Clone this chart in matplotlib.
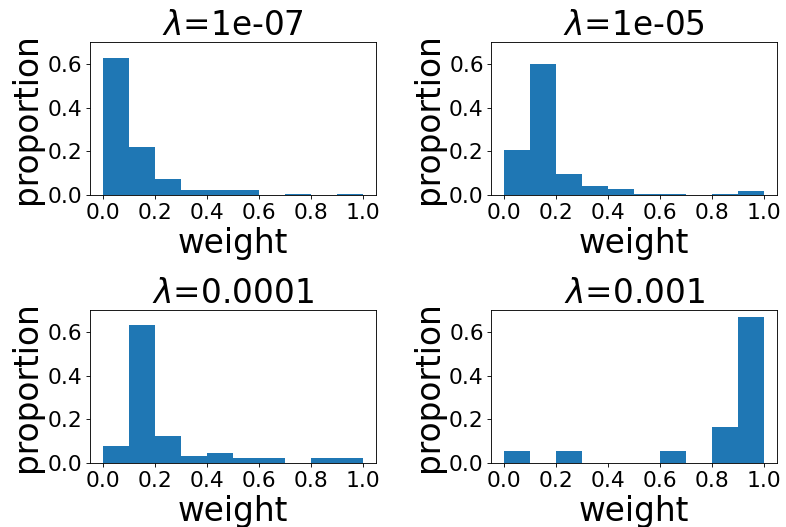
import numpy as np
import matplotlib
matplotlib.use("Agg")
import matplotlib.pyplot as plt

# histogram bin edges over the weight range
bin_edges = np.linspace(0.0, 1.0, 11)

# proportion of weights per bin
lambdas = ["1e-07", "1e-05", "0.0001", "0.001"]
prop_1e7 = [0.627, 0.220, 0.073, 0.023, 0.023, 0.023, 0.0, 0.005, 0.0, 0.005]
prop_1e5 = [0.206, 0.600, 0.096, 0.041, 0.027, 0.005, 0.005, 0.0, 0.005, 0.018]
prop_1e4 = [0.078, 0.632, 0.124, 0.032, 0.046, 0.023, 0.023, 0.0, 0.023, 0.023]
prop_1e3 = [0.056, 0.0, 0.056, 0.0, 0.0, 0.0, 0.056, 0.0, 0.167, 0.667]
proportions = [prop_1e7, prop_1e5, prop_1e4, prop_1e3]

DPI = 78.6
fig, axes = plt.subplots(2, 2, figsize=(786 / DPI, 527 / DPI), dpi=DPI)
fig.subplots_adjust(left=0.1145, right=0.9885, top=0.920, bottom=0.1214,
                    wspace=0.406, hspace=0.75)

centers = (bin_edges[:-1] + bin_edges[1:]) / 2
for ax, lam, props in zip(axes.flat, lambdas, proportions):
    ax.hist(centers, bins=bin_edges, weights=props, color="#1f77b4")
    ax.set_ylim(0, 0.7)
    ax.set_yticks([0.0, 0.2, 0.4, 0.6])
    ax.set_xticks([0.0, 0.2, 0.4, 0.6, 0.8, 1.0])
    ax.tick_params(labelsize=20)
    ax.set_title(r"$\lambda$=" + lam, fontsize=30)
    ax.set_xlabel("weight", fontsize=30)
    ax.set_ylabel("proportion", fontsize=30)

fig.savefig("out.png", dpi=DPI)
